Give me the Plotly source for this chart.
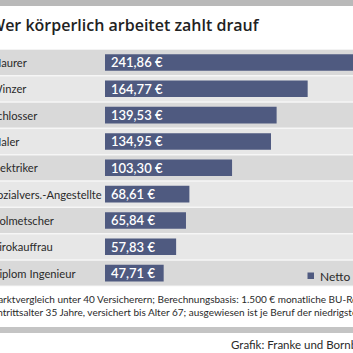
import plotly.graph_objects as go

categories = ["Maurer", "Winzer", "Schlosser", "Maler", "Elektriker",
              "Sozialvers.-Angestellte", "Dolmetscher", "Girokauffrau", "Diplom Ingenieur"]
values = [241.86, 164.77, 139.53, 134.95, 103.30, 68.61, 65.84, 57.83, 47.71]
series_name = "Netto Beitrag"
title_text = "Wer körperlich arbeitet zahlt drauf"
footnote_lines = [
    "Marktvergleich unter 40 Versicherern; Berechnungsbasis: 1.500 € monatliche BU-Rente,",
    "Eintrittsalter 35 Jahre, versichert bis Alter 67; ausgewiesen ist je Beruf der niedrigste Beitrag.",
]
source_text = "Grafik: Franke und Bornberg"

W = H = 353
BAR = "#4f5a80"
DARK = "#d9d9d9"
LIGHT = "#e7e7e7"
TXT = "#2a2a2a"
FONT = "Lato"

def fmt(v):
    return f"{v:.2f}".replace(".", ",") + " €"

fig = go.Figure()
fig.add_trace(go.Bar(
    x=values, y=categories, orientation="h",
    marker=dict(color=BAR, line=dict(width=0)),
    width=0.63, showlegend=False, hoverinfo="skip",
))

px0 = 105
top, bottom = 49.3, 286.3
fig.update_layout(
    width=W, height=H, margin=dict(l=0, r=0, t=0, b=0),
    paper_bgcolor="white", plot_bgcolor="rgba(0,0,0,0)",
    font=dict(family=FONT, color=TXT),
    xaxis=dict(domain=[px0 / W, 1], range=[0, (W - px0) / 1.23],
               visible=False, fixedrange=True),
    yaxis=dict(domain=[(H - bottom) / H, (H - top) / H],
               range=[len(categories) - 0.5, -0.5], type="category",
               categoryorder="array", categoryarray=categories,
               visible=False, fixedrange=True),
)

shapes = []
shapes.append(dict(type="rect", xref="paper", yref="paper", x0=0, x1=1,
                   y0=(H - 6) / H, y1=1, fillcolor="#b9b9b9", line=dict(width=0), layer="below"))
shapes.append(dict(type="rect", xref="paper", yref="paper", x0=0, x1=1,
                   y0=(H - 333) / H, y1=(H - 327) / H, fillcolor="#c4c4c4", line=dict(width=0), layer="below"))
for i, c in enumerate(categories):
    shapes.append(dict(type="rect", xref="paper", yref="y", x0=0, x1=1,
                       y0=i - 0.5, y1=i + 0.5,
                       fillcolor=DARK if i % 2 == 0 else LIGHT,
                       line=dict(width=0), layer="below"))
for i in range(len(categories) + 1):
    shapes.append(dict(type="line", xref="paper", yref="y", x0=0, x1=1,
                       y0=i - 0.5, y1=i - 0.5,
                       line=dict(color="#f6f6f6", width=1.5), layer="below"))
shapes.append(dict(type="rect", xref="paper", yref="paper",
                   x0=307.5 / W, x1=314 / W, y0=(H - 279) / H, y1=(H - 272.5) / H,
                   fillcolor=BAR, line=dict(width=0)))
fig.update_layout(shapes=shapes)

ann = []
ann.append(dict(text=title_text, xref="paper", yref="paper", x=-12 / W, y=(H - 25) / H,
                xanchor="left", yanchor="middle", showarrow=False,
                font=dict(family="Open Sans", size=16, color="#222222", weight=600)))
for c, v in zip(categories, values):
    ann.append(dict(text=c, xref="paper", yref="y", x=-11 / W, y=c, xanchor="left",
                    yanchor="middle", showarrow=False,
                    font=dict(family=FONT, size=11.2, color=TXT)))
    ann.append(dict(text=fmt(v), xref="x", yref="y", x=0, y=c, xanchor="left",
                    xshift=4, yanchor="middle", showarrow=False,
                    font=dict(family=FONT, size=13, color="white", weight=600)))
ann.append(dict(text=series_name, xref="paper", yref="paper", x=318 / W, y=(H - 276) / H,
                xanchor="left", yanchor="middle", showarrow=False,
                font=dict(family=FONT, size=12, color=TXT)))
for k, line in enumerate(footnote_lines):
    ann.append(dict(text=line, xref="paper", yref="paper", x=-13 / W, y=(H - (299 + 12.5 * k)) / H,
                    xanchor="left", yanchor="middle", showarrow=False,
                    font=dict(family=FONT, size=10, color=TXT)))
ann.append(dict(text=source_text, xref="paper", yref="paper", x=229 / W, y=(H - 344) / H,
                xanchor="left", yanchor="middle", showarrow=False,
                font=dict(family=FONT, size=11.5, color=TXT)))
fig.update_layout(annotations=ann)

fig.write_html("out.html", config={"displayModeBar": False})
